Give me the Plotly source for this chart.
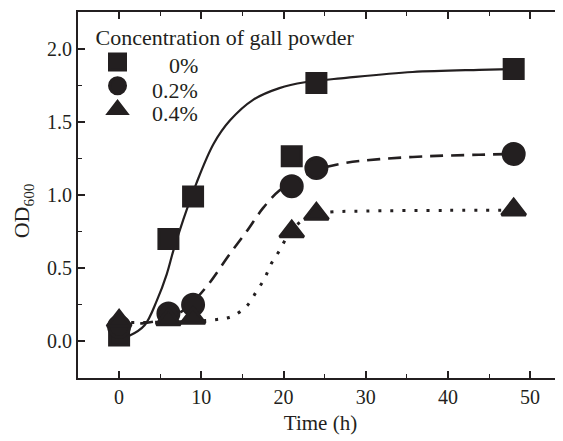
import plotly.graph_objects as go

# ---- data ----
time_h = [0, 6, 9, 21, 24, 48]
od_0pct = [0.04, 0.70, 0.99, 1.265, 1.765, 1.86]
od_02pct = [0.10, 0.19, 0.25, 1.06, 1.185, 1.28]
od_04pct = [0.14, 0.15, 0.16, 0.75, 0.87, 0.90]

# fitted curves
fit0_t = [0, 1.3, 3.1, 4.6, 5.8, 6.6, 7.8, 9.4, 11.5, 13.5, 16.3, 19.5, 22.6, 27.6, 35.7, 43.8, 48]
fit0_y = [0.02, 0.04, 0.11, 0.28, 0.46, 0.62, 0.83, 1.08, 1.35, 1.51, 1.65, 1.73, 1.77, 1.80, 1.84, 1.855, 1.86]

fit02_t = [0, 3, 6, 8, 9.5, 11.0, 13.5, 15.5, 17.5, 19.5, 21, 24, 27.6, 31.7, 37.7, 43.8, 48]
fit02_y = [0.12, 0.125, 0.16, 0.22, 0.30, 0.40, 0.60, 0.75, 0.91, 1.03, 1.08, 1.17, 1.22, 1.245, 1.265, 1.275, 1.28]

fit04_t = [0, 4, 8, 11.9, 13.7, 15.5, 16.7, 17.7, 18.5, 19.5, 20.5, 21.5, 23, 25, 30, 40, 48]
fit04_y = [0.13, 0.13, 0.135, 0.15, 0.17, 0.24, 0.34, 0.43, 0.53, 0.62, 0.72, 0.79, 0.85, 0.88, 0.89, 0.895, 0.895]

legend_title = "Concentration of gall powder"
series_labels = ["0%", "0.2%", "0.4%"]

x_ticks = [0, 10, 20, 30, 40, 50]
y_ticks = [0.0, 0.5, 1.0, 1.5, 2.0]

INK = "#231f20"
FONT = "Liberation Serif, Times New Roman, serif"

fig = go.Figure()

# fitted lines
fig.add_trace(go.Scatter(x=fit0_t, y=fit0_y, mode="lines", showlegend=False,
                         line=dict(color=INK, width=2.2, shape="spline", smoothing=1.0)))
fig.add_trace(go.Scatter(x=fit02_t, y=fit02_y, mode="lines", showlegend=False,
                         line=dict(color=INK, width=2.6, shape="spline", smoothing=1.0, dash="13px,8px")))
fig.add_trace(go.Scatter(x=fit04_t, y=fit04_y, mode="lines", showlegend=False,
                         line=dict(color=INK, width=3, shape="spline", smoothing=1.0, dash="3px,9px")))

# data markers (outline adds to the glyph size so the legend symbols stay large)
fig.add_trace(go.Scatter(x=time_h, y=od_0pct, mode="markers", name=" ",
                         marker=dict(symbol="square", size=19, color=INK, line=dict(width=3, color=INK))))
fig.add_trace(go.Scatter(x=time_h, y=od_02pct, mode="markers", name=" ",
                         marker=dict(symbol="circle", size=21, color=INK, line=dict(width=3, color=INK))))
fig.add_trace(go.Scatter(x=time_h, y=od_04pct, mode="markers", name=" ",
                         marker=dict(symbol="triangle-up", size=21, color=INK, line=dict(width=3, color=INK))))

# legend labels, right-aligned like the reference
label_y = [0.853, 0.785, 0.722]
annotations = [dict(text=lab, xref="paper", yref="paper", x=0.2515, y=yy,
                    xanchor="right", yanchor="middle", showarrow=False,
                    font=dict(family=FONT, size=22, color=INK))
               for lab, yy in zip(series_labels, label_y)]
annotations.append(dict(
    text="OD<sub>600</sub>", xref="paper", yref="paper",
    x=-0.113, y=0.456, xanchor="center", yanchor="middle",
    textangle=-90, showarrow=False,
    font=dict(family=FONT, size=22, color=INK),
))

fig.update_layout(
    width=555, height=433,
    margin=dict(l=70, r=0, t=4, b=63),
    paper_bgcolor="white", plot_bgcolor="white",
    font=dict(family=FONT, size=20, color=INK),
    showlegend=True,
    legend=dict(
        title=dict(text=legend_title, font=dict(family=FONT, size=22, color=INK)),
        font=dict(family=FONT, size=16, color=INK),
        x=0.032, y=0.988, xanchor="left", yanchor="top",
        bgcolor="rgba(0,0,0,0)", borderwidth=0,
        tracegroupgap=0, itemsizing="trace", itemwidth=38,
    ),
    xaxis=dict(
        range=[-5, 54], tickmode="array", tickvals=x_ticks,
        ticktext=[str(v) for v in x_ticks],
        ticks="inside", ticklen=7, tickwidth=1.6, tickcolor=INK,
        minor=dict(dtick=5, tick0=0, ticks="inside", ticklen=4, tickwidth=1.4, tickcolor=INK),
        showline=True, linewidth=2, linecolor=INK, mirror="ticks",
        showgrid=False, zeroline=False,
        tickfont=dict(family=FONT, size=20, color=INK),
        title=dict(text="Time (h)", font=dict(family=FONT, size=21, color=INK), standoff=8),
    ),
    yaxis=dict(
        range=[-0.25, 2.25], tickmode="array", tickvals=y_ticks,
        ticktext=[f"{v:.1f}" for v in y_ticks],
        ticks="inside", ticklen=7, tickwidth=1.6, tickcolor=INK,
        minor=dict(dtick=0.25, tick0=0, ticks="inside", ticklen=4, tickwidth=1.4, tickcolor=INK),
        showline=True, linewidth=2, linecolor=INK, mirror=False,
        showgrid=False, zeroline=False,
        tickfont=dict(family=FONT, size=20, color=INK),
    ),
    annotations=annotations,
)

fig.write_html("out.html")
